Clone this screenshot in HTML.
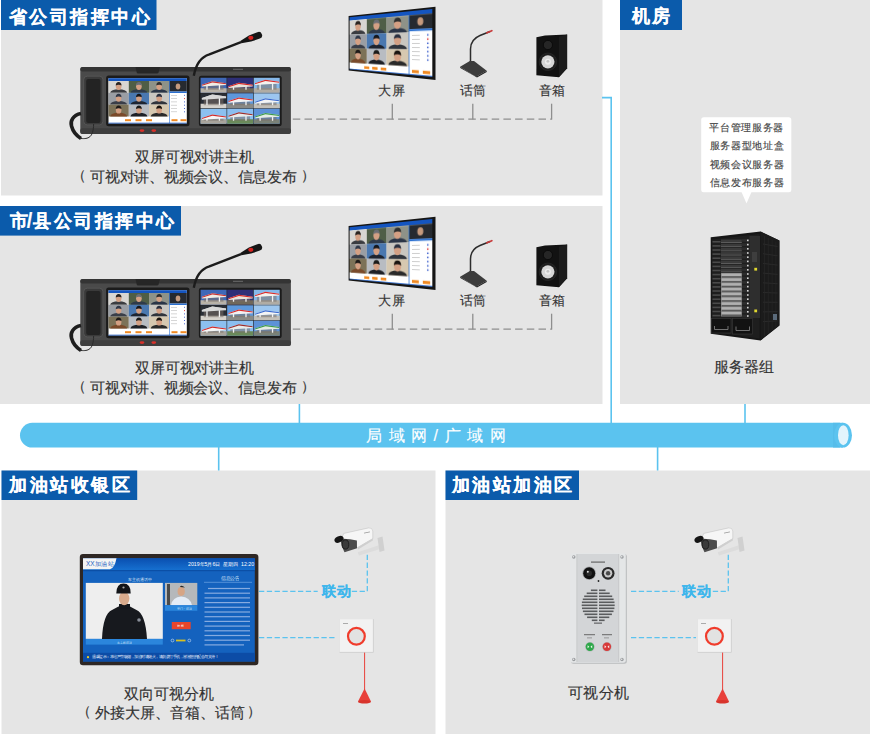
<!DOCTYPE html>
<html><head><meta charset="utf-8"><style>
html,body{margin:0;padding:0;background:#fff;}
body{width:870px;height:734px;position:relative;overflow:hidden;font-family:"Liberation Sans",sans-serif;}
svg.main{position:absolute;left:0;top:0;}
.t{position:absolute;white-space:nowrap;line-height:1;-webkit-text-stroke:0.15px currentColor;}
.c{text-align:center;}
</style></head><body>
<svg class="main" width="870" height="734" viewBox="0 0 870 734">
<rect x="1" y="0" width="601.5" height="195.5" fill="#e5e5e5"/>
<rect x="0" y="206" width="602.5" height="198" fill="#e5e5e5"/>
<rect x="620" y="0" width="250" height="404" fill="#e5e5e5"/>
<rect x="1.5" y="470.5" width="434" height="263.5" fill="#e5e5e5"/>
<rect x="445.5" y="470.5" width="424.5" height="263.5" fill="#e5e5e5"/>
<rect x="1" y="0" width="155.5" height="30" fill="#0b5bab"/>
<rect x="0" y="206" width="181" height="29.6" fill="#0b5bab"/>
<rect x="620" y="0" width="62" height="30" fill="#0b5bab"/>
<rect x="1.5" y="470.5" width="135.7" height="29.5" fill="#0b5bab"/>
<rect x="445.5" y="470.5" width="133.5" height="29.5" fill="#0b5bab"/>
<rect x="20" y="422.8" width="840" height="24.7" rx="12.35" fill="#5bc3ef"/>
<rect x="840" y="420" width="30" height="30" fill="#ffffff"/>
<rect x="833" y="422.8" width="10" height="24.7" fill="#56bdea"/>
<ellipse cx="843" cy="435.15" rx="9" ry="12.35" fill="#5bc3ef"/>
<ellipse cx="843.3" cy="435.15" rx="5.3" ry="10" fill="#e3f4fc"/>
<path d="M602 97.6 H611.2 V423" fill="none" stroke="#5bc3ef" stroke-width="1.6"/>
<path d="M745 404 V423" fill="none" stroke="#5bc3ef" stroke-width="1.6"/>
<path d="M299.4 404 V423" fill="none" stroke="#5bc3ef" stroke-width="1.6"/>
<path d="M218.7 447 V470.5" fill="none" stroke="#5bc3ef" stroke-width="1.6"/>
<path d="M657.6 447 V470.5" fill="none" stroke="#5bc3ef" stroke-width="1.6"/>
<rect x="80.3" y="67.1" width="210.6" height="67" rx="2.5" fill="#4a4a4a"/><rect x="80.3" y="67.1" width="210.6" height="4.5" rx="2" fill="#343434"/><rect x="80.3" y="128.3" width="210.6" height="5.8" rx="2" fill="#3e3e3e"/><path d="M135.5 67.1 H160 L158.5 72.8 Q158 73.5 157 73.5 H138 Q137 73.5 136.8 72.8 Z" fill="#262626"/><rect x="233" y="68.8" width="10" height="1" fill="#6a6a6a"/><path d="M193.8 75.8 C195.5 66 199 57.5 209.4 54.3 L241 42.1" fill="none" stroke="#1c1c1c" stroke-width="2.4"/><path d="M240.3 41.0 L248.9 35.6 L257.4 32.2 A3.4 3.4 0 0 1 259.9 38.6 L251.1 41.6 L241.4 43.2 Z" fill="#161616"/><ellipse cx="250.8" cy="37.8" rx="2.6" ry="2.1" fill="#d42220"/><rect x="83.7" y="76.2" width="19.2" height="48.7" rx="3.5" fill="#3a3a3a" stroke="#5a5a5a" stroke-width="0.8"/><rect x="86.2" y="79" width="14.3" height="44" rx="2" fill="#232323"/><path d="M81 113.5 C73 115 70 121 71.5 126 C73 132 77 136 81 138.5" fill="none" stroke="#1e1e1e" stroke-width="3.6"/><path d="M81 138.5 C88 139 93.5 138 93.6 124" fill="none" stroke="#2a2a2a" stroke-width="1"/><rect x="106.1" y="75.5" width="83.4" height="50.7" rx="2.5" fill="#1b1b1b"/><rect x="108.5" y="78.2" width="78.30" height="45.30" fill="#ffffff"/><rect x="108.5" y="78.2" width="78.30" height="2.8" fill="#1455c0"/><rect x="108.50" y="81.00" width="20.32" height="11.85" fill="#d8d6d2"/><path d="M110.12 92.80 Q110.93 89.50 118.63 89.26 Q126.33 89.50 127.15 92.80 Z" fill="#3a3c40"/><ellipse cx="118.63" cy="86.31" rx="2.83" ry="3.66" fill="#d4a084"/><path d="M115.74 85.48 Q115.80 81.94 118.63 81.94 Q121.47 81.94 121.52 85.48 Q118.63 83.83 115.74 85.48 Z" fill="#2a2420"/><rect x="128.77" y="81.00" width="20.32" height="11.85" fill="#4f5e46"/><path d="M130.39 92.80 Q131.20 89.50 138.90 89.26 Q146.60 89.50 147.41 92.80 Z" fill="#2e3a4a"/><ellipse cx="138.90" cy="86.31" rx="2.83" ry="3.66" fill="#d4a084"/><path d="M136.01 85.48 Q136.07 81.94 138.90 81.94 Q141.73 81.94 141.79 85.48 Q138.90 83.83 136.01 85.48 Z" fill="#6a6e74"/><rect x="149.03" y="81.00" width="20.32" height="11.85" fill="#8e9288"/><path d="M150.65 92.80 Q151.47 89.50 159.17 89.26 Q166.87 89.50 167.68 92.80 Z" fill="#2a3446"/><ellipse cx="159.17" cy="86.31" rx="2.83" ry="3.66" fill="#d4a084"/><path d="M156.28 85.48 Q156.33 81.94 159.17 81.94 Q162.00 81.94 162.06 85.48 Q159.17 83.83 156.28 85.48 Z" fill="#303030"/><rect x="108.50" y="92.80" width="20.32" height="11.85" fill="#9a9ea4"/><path d="M110.12 104.60 Q110.93 101.30 118.63 101.06 Q126.33 101.30 127.15 104.60 Z" fill="#3a3e48"/><ellipse cx="118.63" cy="98.11" rx="2.83" ry="3.66" fill="#d4a084"/><path d="M115.74 97.28 Q115.80 93.74 118.63 93.74 Q121.47 93.74 121.52 97.28 Q118.63 95.63 115.74 97.28 Z" fill="#303848"/><rect x="128.77" y="92.80" width="20.32" height="11.85" fill="#4a78b0"/><path d="M130.39 104.60 Q131.20 101.30 138.90 101.06 Q146.60 101.30 147.41 104.60 Z" fill="#1e2430"/><ellipse cx="138.90" cy="98.11" rx="2.83" ry="3.66" fill="#d4a084"/><path d="M136.01 97.28 Q136.07 93.74 138.90 93.74 Q141.73 93.74 141.79 97.28 Q138.90 95.63 136.01 97.28 Z" fill="#14161c"/><rect x="149.03" y="92.80" width="20.32" height="11.85" fill="#c9c6c0"/><path d="M150.65 104.60 Q151.47 101.30 159.17 101.06 Q166.87 101.30 167.68 104.60 Z" fill="#30343c"/><ellipse cx="159.17" cy="98.11" rx="2.83" ry="3.66" fill="#d4a084"/><path d="M156.28 97.28 Q156.33 93.74 159.17 93.74 Q162.00 93.74 162.06 97.28 Q159.17 95.63 156.28 97.28 Z" fill="#2a3040"/><rect x="108.50" y="104.60" width="20.32" height="11.85" fill="#7c7258"/><path d="M110.12 116.40 Q110.93 113.10 118.63 112.86 Q126.33 113.10 127.15 116.40 Z" fill="#7a4a2a"/><ellipse cx="118.63" cy="109.91" rx="2.83" ry="3.66" fill="#d4a084"/><path d="M115.74 109.08 Q115.80 105.54 118.63 105.54 Q121.47 105.54 121.52 109.08 Q118.63 107.43 115.74 109.08 Z" fill="#1e1a18"/><rect x="128.77" y="104.60" width="20.32" height="11.85" fill="#b8bcc2"/><path d="M130.39 116.40 Q131.20 113.10 138.90 112.86 Q146.60 113.10 147.41 116.40 Z" fill="#1e2026"/><ellipse cx="138.90" cy="109.91" rx="2.83" ry="3.66" fill="#d4a084"/><path d="M136.01 109.08 Q136.07 105.54 138.90 105.54 Q141.73 105.54 141.79 109.08 Q138.90 107.43 136.01 109.08 Z" fill="#1a1a1a"/><rect x="149.03" y="104.60" width="20.32" height="11.85" fill="#d6c8b0"/><path d="M150.65 116.40 Q151.47 113.10 159.17 112.86 Q166.87 113.10 167.68 116.40 Z" fill="#2a2a2a"/><ellipse cx="159.17" cy="109.91" rx="2.83" ry="3.66" fill="#d4a084"/><path d="M156.28 109.08 Q156.33 105.54 159.17 105.54 Q162.00 105.54 162.06 109.08 Q159.17 107.43 156.28 109.08 Z" fill="#1a1410"/><rect x="169.3" y="81" width="17.5" height="10.5" fill="#262a30"/><ellipse cx="178" cy="86.5" rx="2.3" ry="3" fill="#c59a7e"/><rect x="169.3" y="91.5" width="17.5" height="1.5" fill="#2a6fd0"/><rect x="169" y="81" width="0.6" height="42.5" fill="#2a6fd0"/><rect x="171" y="95.0" width="6" height="0.6" fill="#bbb"/><rect x="184" y="94.8" width="1" height="1" fill="#4a6ad0"/><rect x="171" y="98.3" width="6" height="0.6" fill="#bbb"/><rect x="184" y="98.1" width="1" height="1" fill="#e04040"/><rect x="171" y="101.6" width="6" height="0.6" fill="#bbb"/><rect x="184" y="101.4" width="1" height="1" fill="#4a6ad0"/><rect x="171" y="104.9" width="6" height="0.6" fill="#bbb"/><rect x="184" y="104.7" width="1" height="1" fill="#4a6ad0"/><rect x="171" y="108.2" width="6" height="0.6" fill="#bbb"/><rect x="184" y="108.0" width="1" height="1" fill="#4a6ad0"/><rect x="171" y="111.5" width="6" height="0.6" fill="#bbb"/><rect x="184" y="111.3" width="1" height="1" fill="#4a6ad0"/><rect x="108.5" y="122.70" width="78.30" height="0.8" fill="#1455c0"/><rect x="125" y="119.2" width="6" height="2" fill="#f08a24"/><rect x="135.5" y="119.2" width="6" height="2" fill="#f08a24"/><rect x="146" y="119.2" width="6" height="2" fill="#f08a24"/><rect x="171.5" y="119.2" width="6" height="2" fill="#f08a24"/><rect x="180.5" y="119.2" width="6" height="2" fill="#f08a24"/><rect x="198.9" y="75.7" width="82.8" height="50.6" rx="2.5" fill="#1b1b1b"/><rect x="200.3" y="77.5" width="79.7" height="46.5" fill="#222"/><rect x="200.60" y="77.80" width="25.97" height="14.90" fill="#3f68b8"/><rect x="200.60" y="88.23" width="25.97" height="4.47" fill="#b8b2a8"/><rect x="203.72" y="85.25" width="19.73" height="4.47" fill="#7a7068" opacity="0.55"/><rect x="206.31" y="84.50" width="1.30" height="5.21" fill="#f0f0f0"/><rect x="218.78" y="84.50" width="1.30" height="5.21" fill="#f0f0f0"/><path d="M201.90 84.80 L212.29 81.23 L226.05 83.31 L226.05 85.10 L201.90 86.59 Z" fill="#f0ece4"/><path d="M201.90 84.80 L212.29 81.23 L226.05 83.31 L226.05 84.21 L212.29 82.42 L201.90 85.70 Z" fill="#c83030"/><rect x="227.17" y="77.80" width="25.97" height="14.90" fill="#2e2f78"/><rect x="227.17" y="88.23" width="25.97" height="4.47" fill="#70685a"/><rect x="230.28" y="86.74" width="19.73" height="2.98" fill="#7a7068" opacity="0.55"/><rect x="232.88" y="86.00" width="1.30" height="3.72" fill="#f0f0f0"/><rect x="245.34" y="86.00" width="1.30" height="3.72" fill="#f0f0f0"/><path d="M228.47 86.29 L238.85 82.72 L252.61 84.80 L252.61 86.59 L228.47 88.08 Z" fill="#e8e4da"/><path d="M228.47 86.29 L238.85 82.72 L252.61 84.80 L252.61 85.70 L238.85 83.91 L228.47 87.19 Z" fill="#d82828"/><rect x="253.73" y="77.80" width="25.97" height="14.90" fill="#86b8ea"/><rect x="253.73" y="88.23" width="25.97" height="4.47" fill="#b0aca4"/><rect x="256.85" y="83.76" width="19.73" height="5.96" fill="#7a7068" opacity="0.55"/><rect x="259.45" y="83.02" width="1.30" height="6.70" fill="#f0f0f0"/><rect x="271.91" y="83.02" width="1.30" height="6.70" fill="#f0f0f0"/><path d="M255.03 83.31 L265.42 79.74 L279.18 81.82 L279.18 83.61 L255.03 85.10 Z" fill="#f4f2ee"/><path d="M255.03 83.31 L265.42 79.74 L279.18 81.82 L279.18 82.72 L265.42 80.93 L255.03 84.21 Z" fill="#d82a2a"/><rect x="200.60" y="93.30" width="25.97" height="14.90" fill="#2a2e36"/><rect x="200.60" y="103.73" width="25.97" height="4.47" fill="#d6d2cc"/><rect x="203.72" y="98.52" width="19.73" height="6.71" fill="#7a7068" opacity="0.55"/><rect x="206.31" y="97.77" width="1.30" height="7.45" fill="#f0f0f0"/><rect x="218.78" y="97.77" width="1.30" height="7.45" fill="#f0f0f0"/><path d="M201.90 98.07 L212.29 94.49 L226.05 96.58 L226.05 98.37 L201.90 99.86 Z" fill="#d8d8d8"/><path d="M201.90 98.07 L212.29 94.49 L226.05 96.58 L226.05 97.47 L212.29 95.68 L201.90 98.96 Z" fill="#d8d8d8"/><rect x="227.17" y="93.30" width="25.97" height="14.90" fill="#5e98dc"/><rect x="227.17" y="103.73" width="25.97" height="4.47" fill="#8a8a86"/><rect x="230.28" y="101.50" width="19.73" height="3.73" fill="#7a7068" opacity="0.55"/><rect x="232.88" y="100.75" width="1.30" height="4.47" fill="#f0f0f0"/><rect x="245.34" y="100.75" width="1.30" height="4.47" fill="#f0f0f0"/><path d="M228.47 101.05 L238.85 97.47 L252.61 99.56 L252.61 101.35 L228.47 102.84 Z" fill="#f2f2f2"/><path d="M228.47 101.05 L238.85 97.47 L252.61 99.56 L252.61 100.45 L238.85 98.66 L228.47 101.94 Z" fill="#d82a2a"/><rect x="253.73" y="93.30" width="25.97" height="14.90" fill="#9cc6ef"/><rect x="253.73" y="103.73" width="25.97" height="4.47" fill="#c2bfb8"/><rect x="256.85" y="102.24" width="19.73" height="2.98" fill="#7a7068" opacity="0.55"/><rect x="259.45" y="101.50" width="1.30" height="3.72" fill="#f0f0f0"/><rect x="271.91" y="101.50" width="1.30" height="3.72" fill="#f0f0f0"/><path d="M255.03 101.79 L265.42 98.22 L279.18 100.30 L279.18 102.09 L255.03 103.58 Z" fill="#f4f4f4"/><path d="M255.03 101.79 L265.42 98.22 L279.18 100.30 L279.18 101.20 L265.42 99.41 L255.03 102.69 Z" fill="#3a6ad0"/><rect x="200.60" y="108.80" width="25.97" height="14.90" fill="#8cc0f0"/><rect x="200.60" y="119.23" width="25.97" height="4.47" fill="#a8a49c"/><rect x="203.72" y="118.48" width="19.73" height="2.24" fill="#7a7068" opacity="0.55"/><rect x="206.31" y="117.74" width="1.30" height="2.98" fill="#f0f0f0"/><rect x="218.78" y="117.74" width="1.30" height="2.98" fill="#f0f0f0"/><path d="M201.90 118.04 L212.29 114.46 L226.05 116.55 L226.05 118.34 L201.90 119.83 Z" fill="#f6f6f6"/><path d="M201.90 118.04 L212.29 114.46 L226.05 116.55 L226.05 117.44 L212.29 115.65 L201.90 118.93 Z" fill="#d02a2a"/><rect x="227.17" y="108.80" width="25.97" height="14.90" fill="#8abef0"/><rect x="227.17" y="119.23" width="25.97" height="4.47" fill="#6a8a5a"/><rect x="230.28" y="116.25" width="19.73" height="4.47" fill="#7a7068" opacity="0.55"/><rect x="232.88" y="115.50" width="1.30" height="5.21" fill="#f0f0f0"/><rect x="245.34" y="115.50" width="1.30" height="5.21" fill="#f0f0f0"/><path d="M228.47 115.80 L238.85 112.23 L252.61 114.31 L252.61 116.10 L228.47 117.59 Z" fill="#e8ecea"/><path d="M228.47 115.80 L238.85 112.23 L252.61 114.31 L252.61 115.21 L238.85 113.42 L228.47 116.70 Z" fill="#9a2a2a"/><rect x="253.73" y="108.80" width="25.97" height="14.90" fill="#5c92d8"/><rect x="253.73" y="119.23" width="25.97" height="4.47" fill="#7a8278"/><rect x="256.85" y="117.00" width="19.73" height="3.73" fill="#7a7068" opacity="0.55"/><rect x="259.45" y="116.25" width="1.30" height="4.47" fill="#f0f0f0"/><rect x="271.91" y="116.25" width="1.30" height="4.47" fill="#f0f0f0"/><path d="M255.03 116.55 L265.42 112.97 L279.18 115.06 L279.18 116.85 L255.03 118.34 Z" fill="#e4ece4"/><path d="M255.03 116.55 L265.42 112.97 L279.18 115.06 L279.18 115.95 L265.42 114.16 L255.03 117.44 Z" fill="#3a9a4a"/><ellipse cx="142" cy="130.6" rx="2.4" ry="1.4" fill="#d8302a"/><ellipse cx="153.8" cy="130.6" rx="2.4" ry="1.4" fill="#d8302a"/>
<polygon points="348.6,16 435.5,6.7 435.5,79.9 348.6,70.4" fill="#151515"/>
<path d="M470.5 62 V49 C470.5 42 474 38 480 35.5 L490 31.5" fill="none" stroke="#2d2d2d" stroke-width="1.5"/><path d="M487 32.8 L491.8 30.7" stroke="#c83a3a" stroke-width="1.8" stroke-linecap="round"/><polygon points="460.1,66.7 469.8,61 474,61 486.7,70.8 477,76.3 474,75.8" fill="#3c3c3c"/><polygon points="460.1,66.7 474,75.8 477,76.3 486.7,70.8 486.7,72 477,77.6 460.3,68" fill="#222"/>
<polygon points="536.4,37.3 545,35.6 567.1,34.6 567.1,68.3 558.9,77.3 536.4,75.2" fill="#121212"/><polygon points="558.9,36.8 567.1,34.6 567.1,68.3 558.9,77.3" fill="#1c1c1c"/><circle cx="547.9" cy="45" r="4.6" fill="#262626" stroke="#080808" stroke-width="0.8"/><circle cx="547.9" cy="61.8" r="8.8" fill="#1e1e1e" stroke="#2e2e2e" stroke-width="0.6"/><circle cx="547.9" cy="61.8" r="6.6" fill="#d6d6d6"/><circle cx="547.9" cy="61.8" r="3" fill="#ececec"/><circle cx="547.9" cy="61.3" r="1.4" fill="#c4c4c4"/>
<path d="M291.5 119.1 H551.6" fill="none" stroke="#8e8e8e" stroke-width="1.3" stroke-dasharray="7.5 4.2" stroke-dashoffset="-1.3"/><path d="M392.3 103.7 V119.6" stroke="#8e8e8e" stroke-width="1.3"/><path d="M472.8 103.7 V119.6" stroke="#8e8e8e" stroke-width="1.3"/><path d="M551.6 103.7 V119.6" stroke="#8e8e8e" stroke-width="1.3"/>
<rect x="80.3" y="279.1" width="210.6" height="67" rx="2.5" fill="#4a4a4a"/><rect x="80.3" y="279.1" width="210.6" height="4.5" rx="2" fill="#343434"/><rect x="80.3" y="340.3" width="210.6" height="5.8" rx="2" fill="#3e3e3e"/><path d="M135.5 279.1 H160 L158.5 284.8 Q158 285.5 157 285.5 H138 Q137 285.5 136.8 284.8 Z" fill="#262626"/><rect x="233" y="280.8" width="10" height="1" fill="#6a6a6a"/><path d="M193.8 287.8 C195.5 278 199 269.5 209.4 266.3 L241 254.1" fill="none" stroke="#1c1c1c" stroke-width="2.4"/><path d="M240.3 253.0 L248.9 247.6 L257.4 244.2 A3.4 3.4 0 0 1 259.9 250.6 L251.1 253.6 L241.4 255.2 Z" fill="#161616"/><ellipse cx="250.8" cy="249.8" rx="2.6" ry="2.1" fill="#d42220"/><rect x="83.7" y="288.2" width="19.2" height="48.7" rx="3.5" fill="#3a3a3a" stroke="#5a5a5a" stroke-width="0.8"/><rect x="86.2" y="291" width="14.3" height="44" rx="2" fill="#232323"/><path d="M81 325.5 C73 327 70 333 71.5 338 C73 344 77 348 81 350.5" fill="none" stroke="#1e1e1e" stroke-width="3.6"/><path d="M81 350.5 C88 351 93.5 350 93.6 336" fill="none" stroke="#2a2a2a" stroke-width="1"/><rect x="106.1" y="287.5" width="83.4" height="50.7" rx="2.5" fill="#1b1b1b"/><rect x="108.5" y="290.2" width="78.30" height="45.30" fill="#ffffff"/><rect x="108.5" y="290.2" width="78.30" height="2.8" fill="#1455c0"/><rect x="108.50" y="293.00" width="20.32" height="11.85" fill="#d8d6d2"/><path d="M110.12 304.80 Q110.93 301.50 118.63 301.26 Q126.33 301.50 127.15 304.80 Z" fill="#3a3c40"/><ellipse cx="118.63" cy="298.31" rx="2.83" ry="3.66" fill="#d4a084"/><path d="M115.74 297.48 Q115.80 293.94 118.63 293.94 Q121.47 293.94 121.52 297.48 Q118.63 295.83 115.74 297.48 Z" fill="#2a2420"/><rect x="128.77" y="293.00" width="20.32" height="11.85" fill="#4f5e46"/><path d="M130.39 304.80 Q131.20 301.50 138.90 301.26 Q146.60 301.50 147.41 304.80 Z" fill="#2e3a4a"/><ellipse cx="138.90" cy="298.31" rx="2.83" ry="3.66" fill="#d4a084"/><path d="M136.01 297.48 Q136.07 293.94 138.90 293.94 Q141.73 293.94 141.79 297.48 Q138.90 295.83 136.01 297.48 Z" fill="#6a6e74"/><rect x="149.03" y="293.00" width="20.32" height="11.85" fill="#8e9288"/><path d="M150.65 304.80 Q151.47 301.50 159.17 301.26 Q166.87 301.50 167.68 304.80 Z" fill="#2a3446"/><ellipse cx="159.17" cy="298.31" rx="2.83" ry="3.66" fill="#d4a084"/><path d="M156.28 297.48 Q156.33 293.94 159.17 293.94 Q162.00 293.94 162.06 297.48 Q159.17 295.83 156.28 297.48 Z" fill="#303030"/><rect x="108.50" y="304.80" width="20.32" height="11.85" fill="#9a9ea4"/><path d="M110.12 316.60 Q110.93 313.30 118.63 313.06 Q126.33 313.30 127.15 316.60 Z" fill="#3a3e48"/><ellipse cx="118.63" cy="310.11" rx="2.83" ry="3.66" fill="#d4a084"/><path d="M115.74 309.28 Q115.80 305.74 118.63 305.74 Q121.47 305.74 121.52 309.28 Q118.63 307.63 115.74 309.28 Z" fill="#303848"/><rect x="128.77" y="304.80" width="20.32" height="11.85" fill="#4a78b0"/><path d="M130.39 316.60 Q131.20 313.30 138.90 313.06 Q146.60 313.30 147.41 316.60 Z" fill="#1e2430"/><ellipse cx="138.90" cy="310.11" rx="2.83" ry="3.66" fill="#d4a084"/><path d="M136.01 309.28 Q136.07 305.74 138.90 305.74 Q141.73 305.74 141.79 309.28 Q138.90 307.63 136.01 309.28 Z" fill="#14161c"/><rect x="149.03" y="304.80" width="20.32" height="11.85" fill="#c9c6c0"/><path d="M150.65 316.60 Q151.47 313.30 159.17 313.06 Q166.87 313.30 167.68 316.60 Z" fill="#30343c"/><ellipse cx="159.17" cy="310.11" rx="2.83" ry="3.66" fill="#d4a084"/><path d="M156.28 309.28 Q156.33 305.74 159.17 305.74 Q162.00 305.74 162.06 309.28 Q159.17 307.63 156.28 309.28 Z" fill="#2a3040"/><rect x="108.50" y="316.60" width="20.32" height="11.85" fill="#7c7258"/><path d="M110.12 328.40 Q110.93 325.10 118.63 324.86 Q126.33 325.10 127.15 328.40 Z" fill="#7a4a2a"/><ellipse cx="118.63" cy="321.91" rx="2.83" ry="3.66" fill="#d4a084"/><path d="M115.74 321.08 Q115.80 317.54 118.63 317.54 Q121.47 317.54 121.52 321.08 Q118.63 319.43 115.74 321.08 Z" fill="#1e1a18"/><rect x="128.77" y="316.60" width="20.32" height="11.85" fill="#b8bcc2"/><path d="M130.39 328.40 Q131.20 325.10 138.90 324.86 Q146.60 325.10 147.41 328.40 Z" fill="#1e2026"/><ellipse cx="138.90" cy="321.91" rx="2.83" ry="3.66" fill="#d4a084"/><path d="M136.01 321.08 Q136.07 317.54 138.90 317.54 Q141.73 317.54 141.79 321.08 Q138.90 319.43 136.01 321.08 Z" fill="#1a1a1a"/><rect x="149.03" y="316.60" width="20.32" height="11.85" fill="#d6c8b0"/><path d="M150.65 328.40 Q151.47 325.10 159.17 324.86 Q166.87 325.10 167.68 328.40 Z" fill="#2a2a2a"/><ellipse cx="159.17" cy="321.91" rx="2.83" ry="3.66" fill="#d4a084"/><path d="M156.28 321.08 Q156.33 317.54 159.17 317.54 Q162.00 317.54 162.06 321.08 Q159.17 319.43 156.28 321.08 Z" fill="#1a1410"/><rect x="169.3" y="293" width="17.5" height="10.5" fill="#262a30"/><ellipse cx="178" cy="298.5" rx="2.3" ry="3" fill="#c59a7e"/><rect x="169.3" y="303.5" width="17.5" height="1.5" fill="#2a6fd0"/><rect x="169" y="293" width="0.6" height="42.5" fill="#2a6fd0"/><rect x="171" y="307.0" width="6" height="0.6" fill="#bbb"/><rect x="184" y="306.8" width="1" height="1" fill="#4a6ad0"/><rect x="171" y="310.3" width="6" height="0.6" fill="#bbb"/><rect x="184" y="310.1" width="1" height="1" fill="#e04040"/><rect x="171" y="313.6" width="6" height="0.6" fill="#bbb"/><rect x="184" y="313.4" width="1" height="1" fill="#4a6ad0"/><rect x="171" y="316.9" width="6" height="0.6" fill="#bbb"/><rect x="184" y="316.7" width="1" height="1" fill="#4a6ad0"/><rect x="171" y="320.2" width="6" height="0.6" fill="#bbb"/><rect x="184" y="320.0" width="1" height="1" fill="#4a6ad0"/><rect x="171" y="323.5" width="6" height="0.6" fill="#bbb"/><rect x="184" y="323.3" width="1" height="1" fill="#4a6ad0"/><rect x="108.5" y="334.70" width="78.30" height="0.8" fill="#1455c0"/><rect x="125" y="331.2" width="6" height="2" fill="#f08a24"/><rect x="135.5" y="331.2" width="6" height="2" fill="#f08a24"/><rect x="146" y="331.2" width="6" height="2" fill="#f08a24"/><rect x="171.5" y="331.2" width="6" height="2" fill="#f08a24"/><rect x="180.5" y="331.2" width="6" height="2" fill="#f08a24"/><rect x="198.9" y="287.7" width="82.8" height="50.6" rx="2.5" fill="#1b1b1b"/><rect x="200.3" y="289.5" width="79.7" height="46.5" fill="#222"/><rect x="200.60" y="289.80" width="25.97" height="14.90" fill="#3f68b8"/><rect x="200.60" y="300.23" width="25.97" height="4.47" fill="#b8b2a8"/><rect x="203.72" y="297.25" width="19.73" height="4.47" fill="#7a7068" opacity="0.55"/><rect x="206.31" y="296.50" width="1.30" height="5.21" fill="#f0f0f0"/><rect x="218.78" y="296.50" width="1.30" height="5.21" fill="#f0f0f0"/><path d="M201.90 296.80 L212.29 293.23 L226.05 295.31 L226.05 297.10 L201.90 298.59 Z" fill="#f0ece4"/><path d="M201.90 296.80 L212.29 293.23 L226.05 295.31 L226.05 296.21 L212.29 294.42 L201.90 297.70 Z" fill="#c83030"/><rect x="227.17" y="289.80" width="25.97" height="14.90" fill="#2e2f78"/><rect x="227.17" y="300.23" width="25.97" height="4.47" fill="#70685a"/><rect x="230.28" y="298.74" width="19.73" height="2.98" fill="#7a7068" opacity="0.55"/><rect x="232.88" y="298.00" width="1.30" height="3.72" fill="#f0f0f0"/><rect x="245.34" y="298.00" width="1.30" height="3.72" fill="#f0f0f0"/><path d="M228.47 298.29 L238.85 294.72 L252.61 296.80 L252.61 298.59 L228.47 300.08 Z" fill="#e8e4da"/><path d="M228.47 298.29 L238.85 294.72 L252.61 296.80 L252.61 297.70 L238.85 295.91 L228.47 299.19 Z" fill="#d82828"/><rect x="253.73" y="289.80" width="25.97" height="14.90" fill="#86b8ea"/><rect x="253.73" y="300.23" width="25.97" height="4.47" fill="#b0aca4"/><rect x="256.85" y="295.76" width="19.73" height="5.96" fill="#7a7068" opacity="0.55"/><rect x="259.45" y="295.01" width="1.30" height="6.70" fill="#f0f0f0"/><rect x="271.91" y="295.01" width="1.30" height="6.70" fill="#f0f0f0"/><path d="M255.03 295.31 L265.42 291.74 L279.18 293.82 L279.18 295.61 L255.03 297.10 Z" fill="#f4f2ee"/><path d="M255.03 295.31 L265.42 291.74 L279.18 293.82 L279.18 294.72 L265.42 292.93 L255.03 296.21 Z" fill="#d82a2a"/><rect x="200.60" y="305.30" width="25.97" height="14.90" fill="#2a2e36"/><rect x="200.60" y="315.73" width="25.97" height="4.47" fill="#d6d2cc"/><rect x="203.72" y="310.51" width="19.73" height="6.71" fill="#7a7068" opacity="0.55"/><rect x="206.31" y="309.77" width="1.30" height="7.45" fill="#f0f0f0"/><rect x="218.78" y="309.77" width="1.30" height="7.45" fill="#f0f0f0"/><path d="M201.90 310.07 L212.29 306.49 L226.05 308.58 L226.05 310.37 L201.90 311.86 Z" fill="#d8d8d8"/><path d="M201.90 310.07 L212.29 306.49 L226.05 308.58 L226.05 309.47 L212.29 307.68 L201.90 310.96 Z" fill="#d8d8d8"/><rect x="227.17" y="305.30" width="25.97" height="14.90" fill="#5e98dc"/><rect x="227.17" y="315.73" width="25.97" height="4.47" fill="#8a8a86"/><rect x="230.28" y="313.50" width="19.73" height="3.73" fill="#7a7068" opacity="0.55"/><rect x="232.88" y="312.75" width="1.30" height="4.47" fill="#f0f0f0"/><rect x="245.34" y="312.75" width="1.30" height="4.47" fill="#f0f0f0"/><path d="M228.47 313.05 L238.85 309.47 L252.61 311.56 L252.61 313.35 L228.47 314.84 Z" fill="#f2f2f2"/><path d="M228.47 313.05 L238.85 309.47 L252.61 311.56 L252.61 312.45 L238.85 310.66 L228.47 313.94 Z" fill="#d82a2a"/><rect x="253.73" y="305.30" width="25.97" height="14.90" fill="#9cc6ef"/><rect x="253.73" y="315.73" width="25.97" height="4.47" fill="#c2bfb8"/><rect x="256.85" y="314.24" width="19.73" height="2.98" fill="#7a7068" opacity="0.55"/><rect x="259.45" y="313.50" width="1.30" height="3.72" fill="#f0f0f0"/><rect x="271.91" y="313.50" width="1.30" height="3.72" fill="#f0f0f0"/><path d="M255.03 313.79 L265.42 310.22 L279.18 312.30 L279.18 314.09 L255.03 315.58 Z" fill="#f4f4f4"/><path d="M255.03 313.79 L265.42 310.22 L279.18 312.30 L279.18 313.20 L265.42 311.41 L255.03 314.69 Z" fill="#3a6ad0"/><rect x="200.60" y="320.80" width="25.97" height="14.90" fill="#8cc0f0"/><rect x="200.60" y="331.23" width="25.97" height="4.47" fill="#a8a49c"/><rect x="203.72" y="330.49" width="19.73" height="2.24" fill="#7a7068" opacity="0.55"/><rect x="206.31" y="329.74" width="1.30" height="2.98" fill="#f0f0f0"/><rect x="218.78" y="329.74" width="1.30" height="2.98" fill="#f0f0f0"/><path d="M201.90 330.04 L212.29 326.46 L226.05 328.55 L226.05 330.34 L201.90 331.83 Z" fill="#f6f6f6"/><path d="M201.90 330.04 L212.29 326.46 L226.05 328.55 L226.05 329.44 L212.29 327.65 L201.90 330.93 Z" fill="#d02a2a"/><rect x="227.17" y="320.80" width="25.97" height="14.90" fill="#8abef0"/><rect x="227.17" y="331.23" width="25.97" height="4.47" fill="#6a8a5a"/><rect x="230.28" y="328.25" width="19.73" height="4.47" fill="#7a7068" opacity="0.55"/><rect x="232.88" y="327.50" width="1.30" height="5.21" fill="#f0f0f0"/><rect x="245.34" y="327.50" width="1.30" height="5.21" fill="#f0f0f0"/><path d="M228.47 327.80 L238.85 324.23 L252.61 326.31 L252.61 328.10 L228.47 329.59 Z" fill="#e8ecea"/><path d="M228.47 327.80 L238.85 324.23 L252.61 326.31 L252.61 327.21 L238.85 325.42 L228.47 328.70 Z" fill="#9a2a2a"/><rect x="253.73" y="320.80" width="25.97" height="14.90" fill="#5c92d8"/><rect x="253.73" y="331.23" width="25.97" height="4.47" fill="#7a8278"/><rect x="256.85" y="329.00" width="19.73" height="3.73" fill="#7a7068" opacity="0.55"/><rect x="259.45" y="328.25" width="1.30" height="4.47" fill="#f0f0f0"/><rect x="271.91" y="328.25" width="1.30" height="4.47" fill="#f0f0f0"/><path d="M255.03 328.55 L265.42 324.97 L279.18 327.06 L279.18 328.85 L255.03 330.34 Z" fill="#e4ece4"/><path d="M255.03 328.55 L265.42 324.97 L279.18 327.06 L279.18 327.95 L265.42 326.16 L255.03 329.44 Z" fill="#3a9a4a"/><ellipse cx="142" cy="342.6" rx="2.4" ry="1.4" fill="#d8302a"/><ellipse cx="153.8" cy="342.6" rx="2.4" ry="1.4" fill="#d8302a"/>
<polygon points="348.6,226 435.5,216.7 435.5,289.9 348.6,280.4" fill="#151515"/>
<path d="M470.5 272 V259 C470.5 252 474 248 480 245.5 L490 241.5" fill="none" stroke="#2d2d2d" stroke-width="1.5"/><path d="M487 242.8 L491.8 240.7" stroke="#c83a3a" stroke-width="1.8" stroke-linecap="round"/><polygon points="460.1,276.7 469.8,271 474,271 486.7,280.8 477,286.3 474,285.8" fill="#3c3c3c"/><polygon points="460.1,276.7 474,285.8 477,286.3 486.7,280.8 486.7,282 477,287.6 460.3,278" fill="#222"/>
<polygon points="536.4,247.3 545,245.6 567.1,244.6 567.1,278.3 558.9,287.3 536.4,285.2" fill="#121212"/><polygon points="558.9,246.8 567.1,244.6 567.1,278.3 558.9,287.3" fill="#1c1c1c"/><circle cx="547.9" cy="255" r="4.6" fill="#262626" stroke="#080808" stroke-width="0.8"/><circle cx="547.9" cy="271.8" r="8.8" fill="#1e1e1e" stroke="#2e2e2e" stroke-width="0.6"/><circle cx="547.9" cy="271.8" r="6.6" fill="#d6d6d6"/><circle cx="547.9" cy="271.8" r="3" fill="#ececec"/><circle cx="547.9" cy="271.3" r="1.4" fill="#c4c4c4"/>
<path d="M291.5 329.1 H551.6" fill="none" stroke="#8e8e8e" stroke-width="1.3" stroke-dasharray="7.5 4.2" stroke-dashoffset="-1.3"/><path d="M392.3 313.7 V329.6" stroke="#8e8e8e" stroke-width="1.3"/><path d="M472.8 313.7 V329.6" stroke="#8e8e8e" stroke-width="1.3"/><path d="M551.6 313.7 V329.6" stroke="#8e8e8e" stroke-width="1.3"/>
<polygon points="710.7,237.3 760.6,231.5 779.4,240.5 779.4,325.6 760.6,340.4 710.7,333.8" fill="#161616"/><polygon points="760.6,231.5 779.4,240.5 779.4,325.6 760.6,340.4" fill="#1b1b1b"/><path d="M763 244.0 L777.5 246.5" stroke="#2e2e2e" stroke-width="0.8"/><path d="M763 253.7 L777.5 255.8" stroke="#2e2e2e" stroke-width="0.8"/><path d="M763 263.4 L777.5 265.1" stroke="#2e2e2e" stroke-width="0.8"/><path d="M763 273.1 L777.5 274.4" stroke="#2e2e2e" stroke-width="0.8"/><path d="M763 282.8 L777.5 283.7" stroke="#2e2e2e" stroke-width="0.8"/><path d="M763 292.5 L777.5 293.0" stroke="#2e2e2e" stroke-width="0.8"/><path d="M763 302.2 L777.5 302.3" stroke="#2e2e2e" stroke-width="0.8"/><path d="M763 311.9 L777.5 311.6" stroke="#2e2e2e" stroke-width="0.8"/><path d="M763 321.6 L777.5 320.9" stroke="#2e2e2e" stroke-width="0.8"/><path d="M764.5 236.0 V336.0" stroke="#262626" stroke-width="0.7"/><path d="M768.3 237.9 V333.2" stroke="#262626" stroke-width="0.7"/><path d="M772.1 239.8 V330.4" stroke="#262626" stroke-width="0.7"/><path d="M775.9 241.7 V327.6" stroke="#262626" stroke-width="0.7"/><rect x="773" y="314" width="4" height="6" fill="#5a6a7a"/><polygon points="712,239.5 759.5,234 759.5,338.5 712,332" fill="#1e1e1e"/><rect x="712.5" y="241.0" width="8" height="1.6" fill="#4a4a4a"/><rect x="712.5" y="245.1" width="8" height="1.6" fill="#4a4a4a"/><rect x="712.5" y="249.2" width="8" height="1.6" fill="#4a4a4a"/><rect x="712.5" y="253.3" width="8" height="1.6" fill="#4a4a4a"/><rect x="712.5" y="257.4" width="8" height="1.6" fill="#4a4a4a"/><rect x="712.5" y="261.5" width="8" height="1.6" fill="#4a4a4a"/><rect x="712.5" y="265.6" width="8" height="1.6" fill="#4a4a4a"/><rect x="712.5" y="269.7" width="8" height="1.6" fill="#4a4a4a"/><rect x="712.5" y="273.8" width="8" height="1.6" fill="#4a4a4a"/><rect x="712.5" y="277.9" width="8" height="1.6" fill="#4a4a4a"/><rect x="712.5" y="282.0" width="8" height="1.6" fill="#4a4a4a"/><rect x="712.5" y="286.1" width="8" height="1.6" fill="#4a4a4a"/><rect x="712.5" y="290.2" width="8" height="1.6" fill="#4a4a4a"/><rect x="712.5" y="294.3" width="8" height="1.6" fill="#4a4a4a"/><rect x="712.5" y="298.4" width="8" height="1.6" fill="#4a4a4a"/><rect x="712.5" y="302.5" width="8" height="1.6" fill="#4a4a4a"/><rect x="712.5" y="306.6" width="8" height="1.6" fill="#4a4a4a"/><rect x="712.5" y="310.7" width="8" height="1.6" fill="#4a4a4a"/><rect x="712.5" y="314.8" width="8" height="1.6" fill="#4a4a4a"/><rect x="712.5" y="318.9" width="8" height="1.6" fill="#4a4a4a"/><rect x="721" y="239.5" width="20.8" height="2.6" fill="#3a3a3a"/><rect x="721" y="242.1" width="20.8" height="0.8" fill="#6a6a6a"/><rect x="721" y="243.7" width="20.8" height="2.6" fill="#3a3a3a"/><rect x="721" y="246.3" width="20.8" height="0.8" fill="#6a6a6a"/><rect x="721" y="247.9" width="20.8" height="2.6" fill="#3a3a3a"/><rect x="721" y="250.5" width="20.8" height="0.8" fill="#6a6a6a"/><rect x="721" y="252.1" width="20.8" height="2.6" fill="#3a3a3a"/><rect x="721" y="254.7" width="20.8" height="0.8" fill="#6a6a6a"/><rect x="721" y="256.3" width="20.8" height="2.6" fill="#3a3a3a"/><rect x="721" y="258.9" width="20.8" height="0.8" fill="#6a6a6a"/><rect x="721" y="260.5" width="20.8" height="2.6" fill="#3a3a3a"/><rect x="721" y="263.1" width="20.8" height="0.8" fill="#6a6a6a"/><rect x="721" y="264.7" width="20.8" height="2.6" fill="#3a3a3a"/><rect x="721" y="267.3" width="20.8" height="0.8" fill="#6a6a6a"/><rect x="721" y="268.9" width="20.8" height="2.6" fill="#3a3a3a"/><rect x="721" y="271.5" width="20.8" height="0.8" fill="#6a6a6a"/><rect x="721" y="273" width="20.8" height="43.6" fill="#7a7a7a"/><rect x="721.5" y="273.5" width="20" height="2.6" fill="#b0b0b0"/><rect x="722" y="276.3" width="19" height="1.2" fill="#5a5a5a"/><rect x="721.5" y="278.3" width="20" height="2.6" fill="#b0b0b0"/><rect x="722" y="281.1" width="19" height="1.2" fill="#5a5a5a"/><rect x="721.5" y="283.1" width="20" height="2.6" fill="#b0b0b0"/><rect x="722" y="285.9" width="19" height="1.2" fill="#5a5a5a"/><rect x="721.5" y="287.9" width="20" height="2.6" fill="#b0b0b0"/><rect x="722" y="290.7" width="19" height="1.2" fill="#5a5a5a"/><rect x="721.5" y="292.7" width="20" height="2.6" fill="#b0b0b0"/><rect x="722" y="295.5" width="19" height="1.2" fill="#5a5a5a"/><rect x="721.5" y="297.5" width="20" height="2.6" fill="#b0b0b0"/><rect x="722" y="300.3" width="19" height="1.2" fill="#5a5a5a"/><rect x="721.5" y="302.3" width="20" height="2.6" fill="#b0b0b0"/><rect x="722" y="305.1" width="19" height="1.2" fill="#5a5a5a"/><rect x="721.5" y="307.1" width="20" height="2.6" fill="#b0b0b0"/><rect x="722" y="309.9" width="19" height="1.2" fill="#5a5a5a"/><rect x="721.5" y="311.9" width="20" height="2.6" fill="#b0b0b0"/><rect x="722" y="314.7" width="19" height="1.2" fill="#5a5a5a"/><rect x="742" y="239.0" width="7" height="2.8" fill="#2c2c2c"/><rect x="747" y="239.6" width="1.6" height="1.6" fill="#d8d8d8"/><rect x="742" y="243.2" width="7" height="2.8" fill="#2c2c2c"/><rect x="747" y="243.8" width="1.6" height="1.6" fill="#d8d8d8"/><rect x="742" y="247.4" width="7" height="2.8" fill="#2c2c2c"/><rect x="747" y="248.0" width="1.6" height="1.6" fill="#d8d8d8"/><rect x="742" y="251.6" width="7" height="2.8" fill="#2c2c2c"/><rect x="747" y="252.2" width="1.6" height="1.6" fill="#d8d8d8"/><rect x="742" y="255.8" width="7" height="2.8" fill="#2c2c2c"/><rect x="747" y="256.4" width="1.6" height="1.6" fill="#d8d8d8"/><rect x="742" y="260.0" width="7" height="2.8" fill="#2c2c2c"/><rect x="747" y="260.6" width="1.6" height="1.6" fill="#d8d8d8"/><rect x="742" y="264.2" width="7" height="2.8" fill="#2c2c2c"/><rect x="747" y="264.8" width="1.6" height="1.6" fill="#d8d8d8"/><rect x="742" y="268.4" width="7" height="2.8" fill="#2c2c2c"/><rect x="747" y="269.0" width="1.6" height="1.6" fill="#d8d8d8"/><rect x="742" y="272.6" width="7" height="2.8" fill="#2c2c2c"/><rect x="747" y="273.2" width="1.6" height="1.6" fill="#d8d8d8"/><rect x="742" y="276.8" width="7" height="2.8" fill="#2c2c2c"/><rect x="747" y="277.4" width="1.6" height="1.6" fill="#d8d8d8"/><rect x="742" y="281.0" width="7" height="2.8" fill="#2c2c2c"/><rect x="747" y="281.6" width="1.6" height="1.6" fill="#d8d8d8"/><rect x="742" y="285.2" width="7" height="2.8" fill="#2c2c2c"/><rect x="747" y="285.8" width="1.6" height="1.6" fill="#d8d8d8"/><rect x="742" y="289.4" width="7" height="2.8" fill="#2c2c2c"/><rect x="747" y="290.0" width="1.6" height="1.6" fill="#d8d8d8"/><rect x="742" y="293.6" width="7" height="2.8" fill="#2c2c2c"/><rect x="747" y="294.2" width="1.6" height="1.6" fill="#d8d8d8"/><rect x="742" y="297.8" width="7" height="2.8" fill="#2c2c2c"/><rect x="747" y="298.4" width="1.6" height="1.6" fill="#d8d8d8"/><rect x="742" y="302.0" width="7" height="2.8" fill="#2c2c2c"/><rect x="747" y="302.6" width="1.6" height="1.6" fill="#d8d8d8"/><rect x="742" y="306.2" width="7" height="2.8" fill="#2c2c2c"/><rect x="747" y="306.8" width="1.6" height="1.6" fill="#d8d8d8"/><rect x="742" y="310.4" width="7" height="2.8" fill="#2c2c2c"/><rect x="747" y="311.0" width="1.6" height="1.6" fill="#d8d8d8"/><rect x="742" y="314.6" width="7" height="2.8" fill="#2c2c2c"/><rect x="747" y="315.2" width="1.6" height="1.6" fill="#d8d8d8"/><rect x="749.5" y="236" width="10.5" height="82" fill="#2e2e2e"/><rect x="752" y="252" width="5" height="10" fill="#3e3e3e"/><rect x="754.3" y="267.8" width="2.8" height="2.8" fill="#e0d830"/><rect x="754.3" y="309.5" width="2.8" height="2.8" fill="#e0d830"/><rect x="711.5" y="318.5" width="19.5" height="14.5" fill="#121212" stroke="#3a3a3a" stroke-width="0.6"/><rect x="732.5" y="318.5" width="20" height="15.5" fill="#121212" stroke="#3a3a3a" stroke-width="0.6"/><path d="M714.5 326 V329.5 H728 V326 M736 326.5 V330.5 H749.5 V326.5" fill="none" stroke="#8a8a8a" stroke-width="0.8"/>
<rect x="701.2" y="117.2" width="90.1" height="75.1" rx="2.5" fill="#ffffff"/>
<polygon points="741.5,192 751.5,192 746.5,203.5" fill="#ffffff"/>
<path d="M259 591.4 H317.7" stroke="#5bc3ef" stroke-width="1.3" stroke-dasharray="5.3 2.5"/><path d="M351.8 591.4 H367.3 V553" fill="none" stroke="#5bc3ef" stroke-width="1.3" stroke-dasharray="5.3 2.5"/><path d="M259 637.6 H337" stroke="#5bc3ef" stroke-width="1.3" stroke-dasharray="5.3 2.5"/>
<path d="M631 591.4 H678.7" stroke="#5bc3ef" stroke-width="1.3" stroke-dasharray="5.3 2.5"/><path d="M712.8 591.4 H728.3 V553" fill="none" stroke="#5bc3ef" stroke-width="1.3" stroke-dasharray="5.3 2.5"/><path d="M631 637.6 H696" stroke="#5bc3ef" stroke-width="1.3" stroke-dasharray="5.3 2.5"/>
<polygon points="357.6,552.3 378,545.5 383.1,544.8 383.5,548 359,555.5" fill="#dcdcdc"/><polygon points="377.5,538 382.5,536.5 384.5,550.5 379.5,552" fill="#d0d0d0"/><path d="M343.8 533.4 L368.6 527.9 Q372.5 527.5 372.8 531 L372.8 538.6 L357.6 547.5 L341 540 Z" fill="#f6f6f6" stroke="#bdbdbd" stroke-width="0.5"/><path d="M357.6 547.5 L372.8 538.6 L372.8 540.5 L358 549.5 Z" fill="#cfcfcf"/><polygon points="340.3,538.6 350,539.2 356.9,540.6 357,548.2 344.5,552.3 341.7,546.1" fill="#4d4d4d"/><ellipse cx="345.5" cy="544.5" rx="3.3" ry="4.6" fill="#3a3a3a" stroke="#1e1e1e" stroke-width="1"/><ellipse cx="339" cy="539.3" rx="4.8" ry="3" transform="rotate(-25 339 539.3)" fill="#151515"/><rect x="364" y="532" width="6" height="1" transform="rotate(-12 367 532.5)" fill="#999"/>
<polygon points="717.6,552.3 738,545.5 743.1,544.8 743.5,548 719,555.5" fill="#dcdcdc"/><polygon points="737.5,538 742.5,536.5 744.5,550.5 739.5,552" fill="#d0d0d0"/><path d="M703.8 533.4 L728.6 527.9 Q732.5 527.5 732.8 531 L732.8 538.6 L717.6 547.5 L701 540 Z" fill="#f6f6f6" stroke="#bdbdbd" stroke-width="0.5"/><path d="M717.6 547.5 L732.8 538.6 L732.8 540.5 L718 549.5 Z" fill="#cfcfcf"/><polygon points="700.3,538.6 710,539.2 716.9,540.6 717,548.2 704.5,552.3 701.7,546.1" fill="#4d4d4d"/><ellipse cx="705.5" cy="544.5" rx="3.3" ry="4.6" fill="#3a3a3a" stroke="#1e1e1e" stroke-width="1"/><ellipse cx="699" cy="539.3" rx="4.8" ry="3" transform="rotate(-25 699 539.3)" fill="#151515"/><rect x="724" y="532" width="6" height="1" transform="rotate(-12 727 532.5)" fill="#999"/>
<rect x="339.5" y="619.1" width="34.1" height="33.5" fill="#c9c9c9"/><rect x="339.5" y="619.1" width="33.4" height="32.8" fill="#f2f2f2"/><circle cx="356.4" cy="636.3" r="8.4" fill="#e2e2e2" stroke="#f03c2c" stroke-width="2.2"/><rect x="343" y="623" width="5" height="0.8" fill="#999"/><path d="M364.6 652.6 V690" stroke="#e8403a" stroke-width="1"/><polygon points="364.6,688.5 358,701.5 371,701.5" fill="#e8403a"/><ellipse cx="364.5" cy="701.8" rx="6.5" ry="1.8" fill="#d8342c"/>
<rect x="697.5" y="619.1" width="34.1" height="33.5" fill="#c9c9c9"/><rect x="697.5" y="619.1" width="33.4" height="32.8" fill="#f2f2f2"/><circle cx="714.4" cy="636.3" r="8.4" fill="#e2e2e2" stroke="#f03c2c" stroke-width="2.2"/><rect x="701" y="623" width="5" height="0.8" fill="#999"/><path d="M722.6 652.6 V690" stroke="#e8403a" stroke-width="1"/><polygon points="722.6,688.5 716,701.5 729,701.5" fill="#e8403a"/><ellipse cx="722.5" cy="701.8" rx="6.5" ry="1.8" fill="#d8342c"/>
<defs><linearGradient id="hdrg" x1="0" y1="0" x2="0" y2="1"><stop offset="0" stop-color="#0a4fb0"/><stop offset="1" stop-color="#1670d0"/></linearGradient></defs><rect x="79.8" y="553.9" width="178.6" height="111.4" rx="3.2" fill="#2e2724"/><rect x="83" y="558.3" width="171.8" height="103.2" fill="#1462be"/><rect x="83" y="558.3" width="171.8" height="11.9" fill="url(#hdrg)"/><path d="M83 558.3 H116.5 Q114.5 568.5 110 569.2 H83 Z" fill="#f4f4f4"/><rect x="83" y="570.2" width="171.8" height="1" fill="#0a4aa0"/><rect x="85.8" y="582.9" width="77" height="56" fill="#eeeeee"/><rect x="85.8" y="638.9" width="77" height="5.7" fill="#2b86dc"/><path d="M102 638.9 Q103 614 112 610 L118.5 606.5 L130 606.5 L136.5 610 Q145.5 614 147 638.9 Z" fill="#17191e"/><rect x="119" y="604" width="11" height="5" fill="#15171c"/><ellipse cx="124.2" cy="598.5" rx="5.2" ry="6.8" fill="#d8ab8d"/><path d="M116.3 593.4 Q116.5 583.6 123.5 583.6 Q130.7 583.6 130.7 593.4 Z" fill="#121418"/><circle cx="123.5" cy="587.5" r="1.1" fill="#aaa"/><circle cx="139" cy="620" r="1.8" fill="#8a8f9a"/><rect x="165" y="582.9" width="32.3" height="22.3" fill="#b5b8bb"/><rect x="167" y="584" width="3" height="21" fill="#4a4a4a"/><ellipse cx="181.2" cy="591.5" rx="3.6" ry="4.4" fill="#d6a585"/><path d="M180 587 Q181 584.5 185 587.5 Z" fill="#222"/><path d="M171 605.2 Q172.5 597 181.2 596.5 Q190 597 192 605.2 Z" fill="#e4ecf6"/><rect x="165" y="605.2" width="32.3" height="5.6" fill="#2b86dc"/><rect x="171.8" y="622" width="18.9" height="7.2" fill="#e8452c"/><rect x="176" y="639.6" width="9.5" height="1.8" fill="#d8c020"/><circle cx="172.5" cy="640.5" r="1.4" fill="none" stroke="#cfe0f8" stroke-width="0.6"/><circle cx="189.3" cy="640.5" r="1.4" fill="none" stroke="#cfe0f8" stroke-width="0.6"/><path d="M204 582.3 H252" stroke="#7fb0ea" stroke-width="0.6"/><rect x="208" y="587.9" width="42" height="1.2" fill="#86abe0"/><rect x="204.5" y="592.6" width="45.5" height="1.2" fill="#86abe0"/><rect x="204.5" y="597.3" width="45.5" height="1.2" fill="#86abe0"/><rect x="204.5" y="602.0" width="45.5" height="1.2" fill="#86abe0"/><rect x="204.5" y="606.7" width="45.5" height="1.2" fill="#86abe0"/><rect x="204.5" y="611.4" width="45.5" height="1.2" fill="#86abe0"/><rect x="204.5" y="616.1" width="45.5" height="1.2" fill="#86abe0"/><rect x="204.5" y="620.8" width="45.5" height="1.2" fill="#86abe0"/><rect x="204.5" y="625.5" width="45.5" height="1.2" fill="#86abe0"/><rect x="204.5" y="630.2" width="45.5" height="1.2" fill="#86abe0"/><rect x="204.5" y="634.9" width="45.5" height="1.2" fill="#86abe0"/><rect x="204.5" y="639.6" width="45.5" height="1.2" fill="#86abe0"/><rect x="204.5" y="644.3" width="39.5" height="1.2" fill="#86abe0"/><rect x="83" y="652.8" width="171.8" height="8.7" fill="#0c4ca6"/><circle cx="88" cy="657.2" r="1.1" fill="#f0d020"/>
<rect x="571" y="554" width="55.8" height="109.8" rx="2.5" fill="#b8babc"/><rect x="570" y="553" width="55.8" height="109.8" rx="2.5" fill="#e4e6e7"/><rect x="577.1" y="554" width="41.6" height="108" fill="#d3d5d7"/><rect x="576.5" y="554" width="0.8" height="108" fill="#c0c2c4"/><rect x="618.4" y="554" width="0.8" height="108" fill="#c0c2c4"/><circle cx="573.8" cy="557" r="1.7" fill="#9a9da0"/><circle cx="573.5" cy="556.7" r="0.8" fill="#e8e8e8"/><circle cx="622" cy="557" r="1.7" fill="#9a9da0"/><circle cx="621.7" cy="556.7" r="0.8" fill="#e8e8e8"/><circle cx="573.8" cy="659.5" r="1.7" fill="#9a9da0"/><circle cx="573.5" cy="659.2" r="0.8" fill="#e8e8e8"/><circle cx="622" cy="659.5" r="1.7" fill="#9a9da0"/><circle cx="621.7" cy="659.2" r="0.8" fill="#e8e8e8"/><rect x="591" y="561.5" width="14" height="1.2" fill="#666"/><circle cx="589.2" cy="573.3" r="6.8" fill="#a8aaac"/><circle cx="589.2" cy="573.3" r="6" fill="#111"/><circle cx="589.2" cy="573.3" r="2.8" fill="#2a2a2a"/><circle cx="587.8" cy="571.8" r="1" fill="#ddd"/><circle cx="608.1" cy="573.3" r="6.4" fill="#2a2a2a"/><circle cx="608.1" cy="573.3" r="4.2" fill="#c8c8c8"/><circle cx="608.1" cy="573.3" r="2.2" fill="#4a4a4a"/><circle cx="598.5" cy="581" r="0.9" fill="#222"/><rect x="590.9" y="589.5" width="6.5" height="1.6" fill="#5a5c5e"/><rect x="599.0" y="589.5" width="6.5" height="1.6" fill="#5a5c5e"/><rect x="586.7" y="592.5" width="10.7" height="1.6" fill="#5a5c5e"/><rect x="599.0" y="592.5" width="10.7" height="1.6" fill="#5a5c5e"/><rect x="584.2" y="595.5" width="13.2" height="1.6" fill="#5a5c5e"/><rect x="599.0" y="595.5" width="13.2" height="1.6" fill="#5a5c5e"/><rect x="582.8" y="598.5" width="14.6" height="1.6" fill="#5a5c5e"/><rect x="599.0" y="598.5" width="14.6" height="1.6" fill="#5a5c5e"/><rect x="581.9" y="601.5" width="15.5" height="1.6" fill="#5a5c5e"/><rect x="599.0" y="601.5" width="15.5" height="1.6" fill="#5a5c5e"/><rect x="581.7" y="604.5" width="15.7" height="1.6" fill="#5a5c5e"/><rect x="599.0" y="604.5" width="15.7" height="1.6" fill="#5a5c5e"/><rect x="582.0" y="607.5" width="15.4" height="1.6" fill="#5a5c5e"/><rect x="599.0" y="607.5" width="15.4" height="1.6" fill="#5a5c5e"/><rect x="582.9" y="610.5" width="14.5" height="1.6" fill="#5a5c5e"/><rect x="599.0" y="610.5" width="14.5" height="1.6" fill="#5a5c5e"/><rect x="584.5" y="613.5" width="12.9" height="1.6" fill="#5a5c5e"/><rect x="599.0" y="613.5" width="12.9" height="1.6" fill="#5a5c5e"/><rect x="587.1" y="616.5" width="10.3" height="1.6" fill="#5a5c5e"/><rect x="599.0" y="616.5" width="10.3" height="1.6" fill="#5a5c5e"/><rect x="591.8" y="619.5" width="5.6" height="1.6" fill="#5a5c5e"/><rect x="599.0" y="619.5" width="5.6" height="1.6" fill="#5a5c5e"/><rect x="594" y="622.5" width="8" height="1.3" fill="#6a6c6e"/><rect x="584" y="634.2" width="11" height="1" fill="#666"/><rect x="602" y="634.2" width="10" height="1" fill="#666"/><rect x="587" y="637.5" width="5" height="0.8" fill="#888"/><rect x="604" y="637.5" width="5" height="0.8" fill="#888"/><circle cx="589.9" cy="646.8" r="4.8" fill="#b8babc"/><circle cx="589.9" cy="646.8" r="4.2" fill="#2ea84a"/><path d="M587.6 645.3 L589.3 646.8 L587.6 648.3 Z M592.2 645.3 L590.5 646.8 L592.2 648.3 Z" fill="#f0fff0"/><circle cx="606.9" cy="646.8" r="4.8" fill="#b8babc"/><circle cx="606.9" cy="646.8" r="4.2" fill="#d83a3a"/><path d="M604.6 645.3 L606.3 646.8 L604.6 648.3 Z M609.2 645.3 L607.5 646.8 L609.2 648.3 Z" fill="#fff0f0"/>
</svg>
<div style="position:absolute;left:85.5px;top:560.8px;font-size:12.80px;line-height:1;color:#1a5fc0;white-space:nowrap;transform-origin:0 0;transform:scale(0.5);">XX加油站</div>
<div style="position:absolute;left:188.4px;top:562.2px;font-size:10.40px;line-height:1;color:#ffffff;white-space:nowrap;transform-origin:0 0;transform:scale(0.5);">2019年5月6日&nbsp;&nbsp;星期四&nbsp;&nbsp;12:20</div>
<div style="position:absolute;left:128px;top:576.8px;font-size:8.40px;line-height:1;color:#dbe8fa;white-space:nowrap;transform-origin:0 0;transform:scale(0.5);">车主机通话中</div>
<div style="position:absolute;left:220.7px;top:576px;font-size:9.20px;line-height:1;color:#dbe8fa;white-space:nowrap;transform-origin:0 0;transform:scale(0.5);">信息公告</div>
<div style="position:absolute;left:92px;top:655.2px;font-size:7.20px;line-height:1;color:#e8f0fb;white-space:nowrap;transform-origin:0 0;transform:scale(0.5);">温馨提示：本站严禁吸烟，加油时请熄火，请勿拨打手机，谢谢您的配合与支持！</div>
<div style="position:absolute;left:177px;top:607px;font-size:6.00px;line-height:1;color:#dbe8fa;white-space:nowrap;transform-origin:0 0;transform:scale(0.5);">开门 · 通话</div>
<div style="position:absolute;left:117px;top:640.5px;font-size:6.00px;line-height:1;color:#dbe8fa;white-space:nowrap;transform-origin:0 0;transform:scale(0.5);">车主机通话</div>
<div style="position:absolute;left:176.5px;top:624.2px;font-size:6.80px;line-height:1;color:#ffffff;white-space:nowrap;transform-origin:0 0;transform:scale(0.5);">挂断</div>
<div class="t" id="h1" style="left:8.60px;top:7.60px;font-size:18px;color:#fff;font-weight:bold;letter-spacing:2.5px;">省公司指挥中心</div>
<div class="t" id="h2" style="left:9.60px;top:212.30px;font-size:18px;color:#fff;font-weight:bold;letter-spacing:2.5px;">市<span style="display:inline-block;transform:scale(1.1,1.2);margin-left:-3px;letter-spacing:1px">/</span>县公司指挥中心</div>
<div class="t" id="hj" style="left:631.75px;top:7.45px;font-size:18px;color:#fff;font-weight:bold;letter-spacing:2.5px;">机房</div>
<div class="t" id="h3" style="left:9.00px;top:476.00px;font-size:18px;color:#fff;font-weight:bold;letter-spacing:2.5px;">加油站收银区</div>
<div class="t" id="h4" style="left:451.60px;top:476.00px;font-size:18px;color:#fff;font-weight:bold;letter-spacing:2.5px;">加油站加油区</div>
<div class="t" id="c1a" style="left:135.45px;top:149.10px;font-size:15px;color:#333333;font-weight:normal;letter-spacing:-0.25px;">双屏可视对讲主机</div>
<div class="t" id="c1p" style="left:72.25px;top:167.90px;font-size:14px;color:#333333;font-weight:normal;letter-spacing:0px;">（</div>
<div class="t" id="c1b" style="left:90.25px;top:168.90px;font-size:15px;color:#333333;font-weight:normal;letter-spacing:-0.27px;">可视对讲、视频会议、信息发布</div>
<div class="t" id="c1q" style="left:300.90px;top:167.90px;font-size:14px;color:#333333;font-weight:normal;letter-spacing:0px;">）</div>
<div class="t" id="c2a" style="left:135.45px;top:360.10px;font-size:15px;color:#333333;font-weight:normal;letter-spacing:-0.25px;">双屏可视对讲主机</div>
<div class="t" id="c2p" style="left:72.25px;top:378.90px;font-size:14px;color:#333333;font-weight:normal;letter-spacing:0px;">（</div>
<div class="t" id="c2b" style="left:90.25px;top:379.90px;font-size:15px;color:#333333;font-weight:normal;letter-spacing:-0.27px;">可视对讲、视频会议、信息发布</div>
<div class="t" id="c2q" style="left:300.90px;top:378.90px;font-size:14px;color:#333333;font-weight:normal;letter-spacing:0px;">）</div>
<div class="t" id="l1a" style="left:378.30px;top:85.25px;font-size:12.5px;color:#333333;font-weight:normal;letter-spacing:0.3px;">大屏</div>
<div class="t" id="l1b" style="left:460.00px;top:85.25px;font-size:12.5px;color:#333333;font-weight:normal;letter-spacing:0.3px;">话筒</div>
<div class="t" id="l1c" style="left:539.05px;top:85.25px;font-size:12.5px;color:#333333;font-weight:normal;letter-spacing:0.3px;">音箱</div>
<div class="t" id="l2a" style="left:378.30px;top:295.25px;font-size:12.5px;color:#333333;font-weight:normal;letter-spacing:0.3px;">大屏</div>
<div class="t" id="l2b" style="left:460.00px;top:295.25px;font-size:12.5px;color:#333333;font-weight:normal;letter-spacing:0.3px;">话筒</div>
<div class="t" id="l2c" style="left:539.05px;top:295.25px;font-size:12.5px;color:#333333;font-weight:normal;letter-spacing:0.3px;">音箱</div>
<div class="t" id="tt0" style="left:709.35px;top:123.10px;font-size:10.1px;color:#444;font-weight:normal;letter-spacing:0.65px;">平台管理服务器</div>
<div class="t" id="tt1" style="left:709.85px;top:141.30px;font-size:10.1px;color:#444;font-weight:normal;letter-spacing:0.65px;">服务器型地址盒</div>
<div class="t" id="tt2" style="left:709.85px;top:160.00px;font-size:10.1px;color:#444;font-weight:normal;letter-spacing:0.65px;">视频会议服务器</div>
<div class="t" id="tt3" style="left:709.85px;top:178.20px;font-size:10.1px;color:#444;font-weight:normal;letter-spacing:0.65px;">信息发布服务器</div>
<div class="t" id="srv" style="left:714.30px;top:359.30px;font-size:15px;color:#333333;font-weight:normal;letter-spacing:-0.2px;">服务器组</div>
<div class="t" id="lan" style="left:366.10px;top:427.95px;font-size:16px;color:#fff;font-weight:normal;letter-spacing:6.5px;">局域网/广域网</div>
<div class="t" id="ld3" style="left:321.55px;top:584.10px;font-size:14px;color:#3db6ec;font-weight:bold;letter-spacing:1px;">联动</div>
<div class="t" id="ld4" style="left:682.20px;top:584.10px;font-size:14px;color:#3db6ec;font-weight:bold;letter-spacing:1px;">联动</div>
<div class="t" id="p3a" style="left:123.50px;top:686.10px;font-size:15px;color:#333333;font-weight:normal;letter-spacing:0px;">双向可视分机</div>
<div class="t" id="p3p" style="left:76.85px;top:704.30px;font-size:14px;color:#333333;font-weight:normal;letter-spacing:0px;">（</div>
<div class="t" id="p3b" style="left:94.50px;top:705.30px;font-size:15px;color:#333333;font-weight:normal;letter-spacing:0px;">外接大屏、音箱、话筒</div>
<div class="t" id="p3q" style="left:247.00px;top:704.30px;font-size:14px;color:#333333;font-weight:normal;letter-spacing:0px;">）</div>
<div class="t" id="p4a" style="left:567.65px;top:685.20px;font-size:15px;color:#333333;font-weight:normal;letter-spacing:0.6px;">可视分机</div>
<div style="position:absolute;left:0;top:0;width:100px;height:64px;transform-origin:0 0;transform:matrix3d(-0.1838191,-0.1038103,0,-0.002338235,0,0.8140625,0,0,0,0,1,0,349.6,17.2,0,1)"><svg width="100" height="64" viewBox="0 0 100 64" style="display:block"><rect width="100" height="64" fill="#fff"/><rect width="100" height="4.2" fill="#1455c0"/><rect x="0.00" y="4.20" width="25.72" height="17.15" fill="#d8d6d2"/><path d="M2.05 21.30 Q3.08 16.51 12.83 16.17 Q22.59 16.51 23.61 21.30 Z" fill="#3a3c40"/><ellipse cx="12.83" cy="11.89" rx="4.10" ry="5.30" fill="#d4a084"/><path d="M8.65 10.70 Q8.73 5.57 12.83 5.57 Q16.94 5.57 17.02 10.70 Q12.83 8.30 8.65 10.70 Z" fill="#2a2420"/><rect x="25.67" y="4.20" width="25.72" height="17.15" fill="#4f5e46"/><path d="M27.72 21.30 Q28.75 16.51 38.50 16.17 Q48.25 16.51 49.28 21.30 Z" fill="#2e3a4a"/><ellipse cx="38.50" cy="11.89" rx="4.10" ry="5.30" fill="#d4a084"/><path d="M34.31 10.70 Q34.40 5.57 38.50 5.57 Q42.60 5.57 42.69 10.70 Q38.50 8.30 34.31 10.70 Z" fill="#6a6e74"/><rect x="51.33" y="4.20" width="25.72" height="17.15" fill="#8e9288"/><path d="M53.39 21.30 Q54.41 16.51 64.17 16.17 Q73.92 16.51 74.95 21.30 Z" fill="#2a3446"/><ellipse cx="64.17" cy="11.89" rx="4.10" ry="5.30" fill="#d4a084"/><path d="M59.98 10.70 Q60.06 5.57 64.17 5.57 Q68.27 5.57 68.35 10.70 Q64.17 8.30 59.98 10.70 Z" fill="#303030"/><rect x="0.00" y="21.30" width="25.72" height="17.15" fill="#9a9ea4"/><path d="M2.05 38.40 Q3.08 33.61 12.83 33.27 Q22.59 33.61 23.61 38.40 Z" fill="#3a3e48"/><ellipse cx="12.83" cy="28.99" rx="4.10" ry="5.30" fill="#d4a084"/><path d="M8.65 27.80 Q8.73 22.67 12.83 22.67 Q16.94 22.67 17.02 27.80 Q12.83 25.40 8.65 27.80 Z" fill="#303848"/><rect x="25.67" y="21.30" width="25.72" height="17.15" fill="#4a78b0"/><path d="M27.72 38.40 Q28.75 33.61 38.50 33.27 Q48.25 33.61 49.28 38.40 Z" fill="#1e2430"/><ellipse cx="38.50" cy="28.99" rx="4.10" ry="5.30" fill="#d4a084"/><path d="M34.31 27.80 Q34.40 22.67 38.50 22.67 Q42.60 22.67 42.69 27.80 Q38.50 25.40 34.31 27.80 Z" fill="#14161c"/><rect x="51.33" y="21.30" width="25.72" height="17.15" fill="#c9c6c0"/><path d="M53.39 38.40 Q54.41 33.61 64.17 33.27 Q73.92 33.61 74.95 38.40 Z" fill="#30343c"/><ellipse cx="64.17" cy="28.99" rx="4.10" ry="5.30" fill="#d4a084"/><path d="M59.98 27.80 Q60.06 22.67 64.17 22.67 Q68.27 22.67 68.35 27.80 Q64.17 25.40 59.98 27.80 Z" fill="#2a3040"/><rect x="0.00" y="38.40" width="25.72" height="17.15" fill="#7c7258"/><path d="M2.05 55.50 Q3.08 50.71 12.83 50.37 Q22.59 50.71 23.61 55.50 Z" fill="#7a4a2a"/><ellipse cx="12.83" cy="46.09" rx="4.10" ry="5.30" fill="#d4a084"/><path d="M8.65 44.90 Q8.73 39.77 12.83 39.77 Q16.94 39.77 17.02 44.90 Q12.83 42.50 8.65 44.90 Z" fill="#1e1a18"/><rect x="25.67" y="38.40" width="25.72" height="17.15" fill="#b8bcc2"/><path d="M27.72 55.50 Q28.75 50.71 38.50 50.37 Q48.25 50.71 49.28 55.50 Z" fill="#1e2026"/><ellipse cx="38.50" cy="46.09" rx="4.10" ry="5.30" fill="#d4a084"/><path d="M34.31 44.90 Q34.40 39.77 38.50 39.77 Q42.60 39.77 42.69 44.90 Q38.50 42.50 34.31 44.90 Z" fill="#1a1a1a"/><rect x="51.33" y="38.40" width="25.72" height="17.15" fill="#d6c8b0"/><path d="M53.39 55.50 Q54.41 50.71 64.17 50.37 Q73.92 50.71 74.95 55.50 Z" fill="#2a2a2a"/><ellipse cx="64.17" cy="46.09" rx="4.10" ry="5.30" fill="#d4a084"/><path d="M59.98 44.90 Q60.06 39.77 64.17 39.77 Q68.27 39.77 68.35 44.90 Q64.17 42.50 59.98 44.90 Z" fill="#1a1410"/><rect x="77" y="4.2" width="23" height="14" fill="#262a30"/><ellipse cx="88.5" cy="11" rx="3" ry="4" fill="#c59a7e"/><rect x="77" y="18.2" width="23" height="2" fill="#2a6fd0"/><rect x="76.6" y="4.2" width="0.8" height="59.8" fill="#2a6fd0"/><rect x="80" y="24.0" width="8" height="0.7" fill="#bbb"/><rect x="95" y="23.6" width="1.5" height="1.5" fill="#4a6ad0"/><rect x="80" y="28.0" width="8" height="0.7" fill="#bbb"/><rect x="95" y="27.6" width="1.5" height="1.5" fill="#e04040"/><rect x="80" y="32.0" width="8" height="0.7" fill="#bbb"/><rect x="95" y="31.6" width="1.5" height="1.5" fill="#4a6ad0"/><rect x="80" y="36.0" width="8" height="0.7" fill="#bbb"/><rect x="95" y="35.6" width="1.5" height="1.5" fill="#4a6ad0"/><rect x="80" y="40.0" width="8" height="0.7" fill="#bbb"/><rect x="95" y="39.6" width="1.5" height="1.5" fill="#4a6ad0"/><rect x="80" y="44.0" width="8" height="0.7" fill="#bbb"/><rect x="95" y="43.6" width="1.5" height="1.5" fill="#4a6ad0"/><rect x="80" y="48.0" width="8" height="0.7" fill="#bbb"/><rect x="95" y="47.6" width="1.5" height="1.5" fill="#4a6ad0"/><rect x="22" y="58.8" width="7" height="3" fill="#f08a24"/><rect x="33" y="58.8" width="7" height="3" fill="#f08a24"/><rect x="44" y="58.8" width="7" height="3" fill="#f08a24"/><rect x="80" y="58.8" width="7" height="3" fill="#f08a24"/><rect x="91" y="58.8" width="7" height="3" fill="#f08a24"/><rect x="0" y="63.2" width="100" height="0.8" fill="#1455c0"/></svg></div>
<div style="position:absolute;left:0;top:0;width:100px;height:64px;transform-origin:0 0;transform:matrix3d(-0.1838191,-0.5948397,0,-0.002338235,0,0.8140625,0,0,0,0,1,0,349.6,227.2,0,1)"><svg width="100" height="64" viewBox="0 0 100 64" style="display:block"><rect width="100" height="64" fill="#fff"/><rect width="100" height="4.2" fill="#1455c0"/><rect x="0.00" y="4.20" width="25.72" height="17.15" fill="#d8d6d2"/><path d="M2.05 21.30 Q3.08 16.51 12.83 16.17 Q22.59 16.51 23.61 21.30 Z" fill="#3a3c40"/><ellipse cx="12.83" cy="11.89" rx="4.10" ry="5.30" fill="#d4a084"/><path d="M8.65 10.70 Q8.73 5.57 12.83 5.57 Q16.94 5.57 17.02 10.70 Q12.83 8.30 8.65 10.70 Z" fill="#2a2420"/><rect x="25.67" y="4.20" width="25.72" height="17.15" fill="#4f5e46"/><path d="M27.72 21.30 Q28.75 16.51 38.50 16.17 Q48.25 16.51 49.28 21.30 Z" fill="#2e3a4a"/><ellipse cx="38.50" cy="11.89" rx="4.10" ry="5.30" fill="#d4a084"/><path d="M34.31 10.70 Q34.40 5.57 38.50 5.57 Q42.60 5.57 42.69 10.70 Q38.50 8.30 34.31 10.70 Z" fill="#6a6e74"/><rect x="51.33" y="4.20" width="25.72" height="17.15" fill="#8e9288"/><path d="M53.39 21.30 Q54.41 16.51 64.17 16.17 Q73.92 16.51 74.95 21.30 Z" fill="#2a3446"/><ellipse cx="64.17" cy="11.89" rx="4.10" ry="5.30" fill="#d4a084"/><path d="M59.98 10.70 Q60.06 5.57 64.17 5.57 Q68.27 5.57 68.35 10.70 Q64.17 8.30 59.98 10.70 Z" fill="#303030"/><rect x="0.00" y="21.30" width="25.72" height="17.15" fill="#9a9ea4"/><path d="M2.05 38.40 Q3.08 33.61 12.83 33.27 Q22.59 33.61 23.61 38.40 Z" fill="#3a3e48"/><ellipse cx="12.83" cy="28.99" rx="4.10" ry="5.30" fill="#d4a084"/><path d="M8.65 27.80 Q8.73 22.67 12.83 22.67 Q16.94 22.67 17.02 27.80 Q12.83 25.40 8.65 27.80 Z" fill="#303848"/><rect x="25.67" y="21.30" width="25.72" height="17.15" fill="#4a78b0"/><path d="M27.72 38.40 Q28.75 33.61 38.50 33.27 Q48.25 33.61 49.28 38.40 Z" fill="#1e2430"/><ellipse cx="38.50" cy="28.99" rx="4.10" ry="5.30" fill="#d4a084"/><path d="M34.31 27.80 Q34.40 22.67 38.50 22.67 Q42.60 22.67 42.69 27.80 Q38.50 25.40 34.31 27.80 Z" fill="#14161c"/><rect x="51.33" y="21.30" width="25.72" height="17.15" fill="#c9c6c0"/><path d="M53.39 38.40 Q54.41 33.61 64.17 33.27 Q73.92 33.61 74.95 38.40 Z" fill="#30343c"/><ellipse cx="64.17" cy="28.99" rx="4.10" ry="5.30" fill="#d4a084"/><path d="M59.98 27.80 Q60.06 22.67 64.17 22.67 Q68.27 22.67 68.35 27.80 Q64.17 25.40 59.98 27.80 Z" fill="#2a3040"/><rect x="0.00" y="38.40" width="25.72" height="17.15" fill="#7c7258"/><path d="M2.05 55.50 Q3.08 50.71 12.83 50.37 Q22.59 50.71 23.61 55.50 Z" fill="#7a4a2a"/><ellipse cx="12.83" cy="46.09" rx="4.10" ry="5.30" fill="#d4a084"/><path d="M8.65 44.90 Q8.73 39.77 12.83 39.77 Q16.94 39.77 17.02 44.90 Q12.83 42.50 8.65 44.90 Z" fill="#1e1a18"/><rect x="25.67" y="38.40" width="25.72" height="17.15" fill="#b8bcc2"/><path d="M27.72 55.50 Q28.75 50.71 38.50 50.37 Q48.25 50.71 49.28 55.50 Z" fill="#1e2026"/><ellipse cx="38.50" cy="46.09" rx="4.10" ry="5.30" fill="#d4a084"/><path d="M34.31 44.90 Q34.40 39.77 38.50 39.77 Q42.60 39.77 42.69 44.90 Q38.50 42.50 34.31 44.90 Z" fill="#1a1a1a"/><rect x="51.33" y="38.40" width="25.72" height="17.15" fill="#d6c8b0"/><path d="M53.39 55.50 Q54.41 50.71 64.17 50.37 Q73.92 50.71 74.95 55.50 Z" fill="#2a2a2a"/><ellipse cx="64.17" cy="46.09" rx="4.10" ry="5.30" fill="#d4a084"/><path d="M59.98 44.90 Q60.06 39.77 64.17 39.77 Q68.27 39.77 68.35 44.90 Q64.17 42.50 59.98 44.90 Z" fill="#1a1410"/><rect x="77" y="4.2" width="23" height="14" fill="#262a30"/><ellipse cx="88.5" cy="11" rx="3" ry="4" fill="#c59a7e"/><rect x="77" y="18.2" width="23" height="2" fill="#2a6fd0"/><rect x="76.6" y="4.2" width="0.8" height="59.8" fill="#2a6fd0"/><rect x="80" y="24.0" width="8" height="0.7" fill="#bbb"/><rect x="95" y="23.6" width="1.5" height="1.5" fill="#4a6ad0"/><rect x="80" y="28.0" width="8" height="0.7" fill="#bbb"/><rect x="95" y="27.6" width="1.5" height="1.5" fill="#e04040"/><rect x="80" y="32.0" width="8" height="0.7" fill="#bbb"/><rect x="95" y="31.6" width="1.5" height="1.5" fill="#4a6ad0"/><rect x="80" y="36.0" width="8" height="0.7" fill="#bbb"/><rect x="95" y="35.6" width="1.5" height="1.5" fill="#4a6ad0"/><rect x="80" y="40.0" width="8" height="0.7" fill="#bbb"/><rect x="95" y="39.6" width="1.5" height="1.5" fill="#4a6ad0"/><rect x="80" y="44.0" width="8" height="0.7" fill="#bbb"/><rect x="95" y="43.6" width="1.5" height="1.5" fill="#4a6ad0"/><rect x="80" y="48.0" width="8" height="0.7" fill="#bbb"/><rect x="95" y="47.6" width="1.5" height="1.5" fill="#4a6ad0"/><rect x="22" y="58.8" width="7" height="3" fill="#f08a24"/><rect x="33" y="58.8" width="7" height="3" fill="#f08a24"/><rect x="44" y="58.8" width="7" height="3" fill="#f08a24"/><rect x="80" y="58.8" width="7" height="3" fill="#f08a24"/><rect x="91" y="58.8" width="7" height="3" fill="#f08a24"/><rect x="0" y="63.2" width="100" height="0.8" fill="#1455c0"/></svg></div>
</body></html>
